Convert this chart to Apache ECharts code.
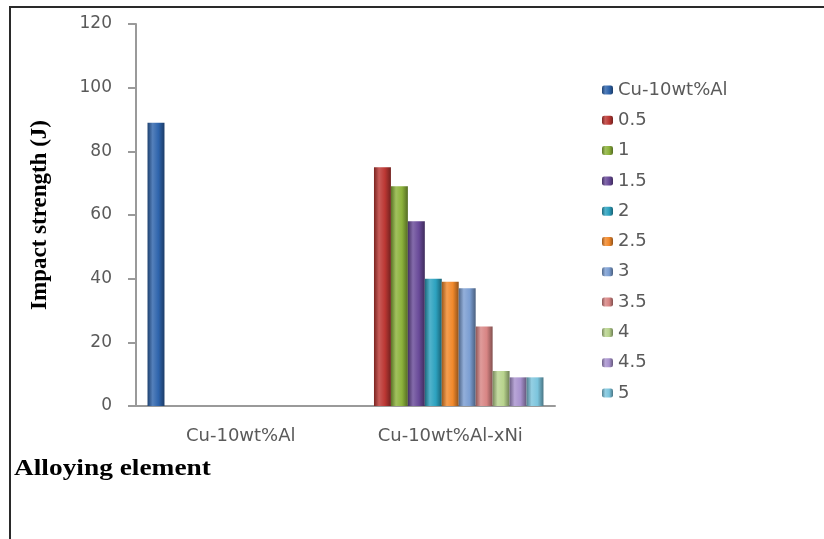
<!DOCTYPE html>
<html>
<head>
<meta charset="utf-8">
<script src="https://cdn.jsdelivr.net/npm/echarts@6/dist/echarts.min.js"></script>
<style>
  html, body { margin: 0; padding: 0; background: #fff; }
  #chart { width: 824px; height: 539px; }
</style>
</head>
<body>
<div id="chart"></div>
<script>
// Impact strength of the base bronze and of the Ni-alloyed variants
const categories = ['Cu-10wt%Al', 'Cu-10wt%Al-xNi'];
const seriesNames = ['Cu-10wt%Al', '0.5', '1', '1.5', '2', '2.5', '3', '3.5', '4', '4.5', '5'];
const baseAlloyValue = [89];                                   // Cu-10wt%Al (J)
const nickelValues = [75, 69, 58, 40, 39, 37, 25, 11, 9, 9];   // x wt% Ni (J)
const yTicks = [0, 20, 40, 60, 80, 100, 120];

// bar colours (shaded like cylinders)
const palette = ['#2E64AC', '#BC3733', '#8CB23B', '#694A99', '#2CA2BF', '#F2892B',
                 '#7B9ED2', '#D88584', '#B8D38D', '#A892CE', '#7CC5DD'];

function shade(hex, f) {
  const n = parseInt(hex.slice(1), 16);
  let r = (n >> 16) & 255, g = (n >> 8) & 255, b = n & 255;
  const m = c => Math.max(0, Math.min(255, Math.round(f < 0 ? c * (1 + f) : c + (255 - c) * f)));
  return 'rgb(' + m(r) + ',' + m(g) + ',' + m(b) + ')';
}
function cylinder(hex) {
  return new echarts.graphic.LinearGradient(0, 0, 1, 0, [
    { offset: 0, color: shade(hex, -0.35) },
    { offset: 0.3, color: shade(hex, 0.18) },
    { offset: 0.65, color: hex },
    { offset: 1, color: shade(hex, -0.4) }
  ]);
}

const series = seriesNames.map((name, i) => ({
  name: name,
  type: 'bar',
  data: i === 0 ? [baseAlloyValue[0], '-'] : ['-', nickelValues[i - 1]],
  barGap: '0%',
  barCategoryGap: '11%',
  itemStyle: { color: cylinder(palette[i]) },
  emphasis: { disabled: true }
}));

const chart = echarts.init(document.getElementById('chart'), null, { renderer: 'canvas' });
chart.setOption({
  animation: false,
  backgroundColor: '#fff',
  grid: { left: 136, right: 269, top: 24, bottom: 133, containLabel: false },
  legend: {
    orient: 'vertical',
    left: 597,
    top: 76,
    itemWidth: 11,
    itemHeight: 9,
    itemGap: 12.3,
    data: seriesNames,
    textStyle: { fontFamily: 'DejaVu Sans', fontSize: 18, color: '#5a5a5a' }
  },
  xAxis: {
    type: 'category',
    data: categories,
    axisLine: { lineStyle: { color: '#9a9a9a', width: 2 } },
    axisTick: { show: false },
    axisLabel: { margin: 21, fontFamily: 'DejaVu Sans', fontSize: 18, color: '#5a5a5a' },
    splitLine: { show: false }
  },
  yAxis: {
    type: 'value',
    min: yTicks[0],
    max: yTicks[yTicks.length - 1],
    interval: yTicks[1] - yTicks[0],
    name: 'Impact strength (J)',
    nameLocation: 'middle',
    nameGap: 84,
    nameTextStyle: { fontFamily: 'Liberation Serif', fontWeight: 'bold', fontSize: 23, color: '#000' },
    axisLine: { show: true, lineStyle: { color: '#9a9a9a', width: 2 } },
    axisTick: { show: true, length: 8, lineStyle: { color: '#9a9a9a', width: 2 } },
    axisLabel: { margin: 24, fontFamily: 'DejaVu Sans', fontSize: 17, color: '#5a5a5a' },
    splitLine: { show: false }
  },
  graphic: [
    {
      type: 'polyline',
      shape: { points: [[10, 539], [10, 7], [824, 7]] },
      style: { stroke: '#2a2a2a', lineWidth: 2, fill: null },
      silent: true
    },
    {
      type: 'text',
      left: 14,
      top: 458,
      scaleX: 1.19,
      style: {
        text: 'Alloying element',
        font: 'bold 23px "Liberation Serif"',
        fill: '#000'
      },
      silent: true
    }
  ],
  series: series
});
</script>
</body>
</html>
